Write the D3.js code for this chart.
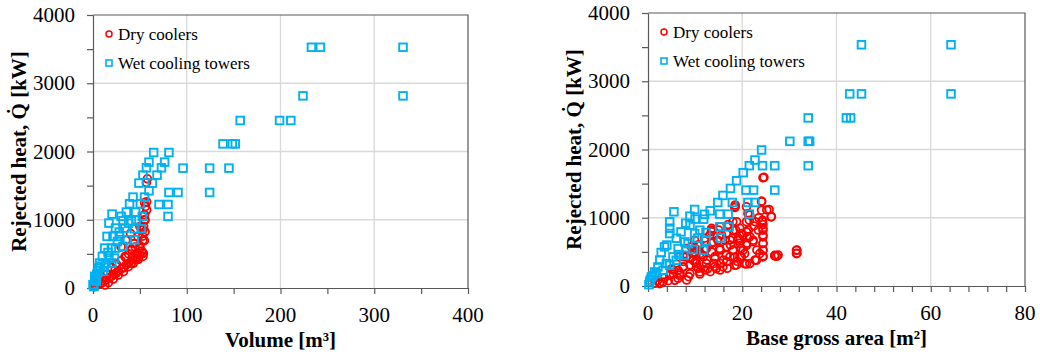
<!DOCTYPE html>
<html>
<head>
<meta charset="utf-8">
<script src="https://cdn.jsdelivr.net/npm/d3@7"></script>
<style>
  body { margin: 0; background: #fff; }
  svg { display: block; }
  svg text { font-family: "Liberation Serif", "Times New Roman", Tinos, "DejaVu Serif", serif; fill: #000; }
</style>
</head>
<body>
<svg id="chart" width="1040" height="357" font-family="Liberation Serif, Times New Roman, DejaVu Serif, serif"></svg>
<script>
// ---- data ----
const seriesNames = ['Dry coolers', 'Wet cooling towers'];
const heatTicks = [0, 1000, 2000, 3000, 4000];
const volumeTicks = [0, 100, 200, 300, 400];
const areaTicks = [0, 20, 40, 60, 80];

// [volume m3, rejected heat kW]
const dryVolume = [
  [1, 20], [2, 40], [3, 30], [5, 60], [8, 70], [9, 73], [12, 100], [14, 122], [17, 150],
  [19.6, 171], [22, 200], [25, 220], [27, 250], [30, 278], [33, 300], [35.6, 341], [38, 360],
  [41, 366], [42.7, 439], [45, 420], [47, 429], [48, 463], [50, 480], [53.3, 463], [53.3, 512],
  [52, 540], [41, 570], [45, 600], [50, 620], [53.3, 698], [53, 760], [53.3, 854], [54, 900],
  [55, 1000], [55, 1073], [56, 1195], [55, 1250], [57, 1546], [58, 1600], [30, 400], [35, 450],
  [25, 350], [20, 300], [15, 200], [10, 150], [38, 500], [44, 650], [48, 750], [50, 900],
  [40, 800], [35, 700], [30, 600], [4, 90], [6, 110], [7, 160],
  [54.8, 693], [53.7, 508], [48.4, 420], [43, 361], [37.7, 313], [32.4, 239], [27, 190],
  [21.7, 132], [16.4, 78], [12.8, 44], [41.3, 557], [46.6, 508], [55.5, 825], [55.5, 996],
  [57.2, 1143], [57.2, 1264], [34.1, 459], [50.1, 581], [23.5, 264]
];
const wetVolume = [
  [233, 3527], [242.5, 3527], [330.7, 3527], [224, 2815], [330.7, 2815],
  [157, 2454], [199, 2454], [211, 2454], [138.7, 2112], [148.6, 2112], [151.8, 2112],
  [64.7, 1985], [81, 1985], [96, 1756], [124.4, 1756], [145, 1756],
  [81, 1400], [90.7, 1400], [124.4, 1400], [70.4, 1224], [80, 1224], [80, 1049],
  [59.7, 1844], [76.4, 1844], [57, 1761], [73, 1761], [53.3, 1654], [68.3, 1654],
  [49, 1537], [63.3, 1537], [59.7, 1424], [42.7, 1332], [55, 1332], [39, 1234], [50.5, 1234],
  [35.6, 1112], [45.5, 1112], [20.3, 1083], [52.6, 1049], [32, 985], [41, 985], [17, 951],
  [24, 878], [34, 878], [44.4, 868], [51.5, 868], [15, 756], [21.3, 756], [28.4, 756],
  [36.6, 707], [44, 707], [12.4, 585], [19.6, 585], [24, 585], [32, 610], [10, 463],
  [17, 439], [23, 439], [7, 366], [14, 366], [20, 366], [5.3, 293], [10.7, 244],
  [1.8, 171], [3.5, 98], [0, 49], [1, 20], [2, 120], [4, 200], [6, 260], [8, 320],
  [12, 300], [16, 520], [28, 820], [38, 950], [46, 1000], [30, 1050], [26, 680]
];

// [base gross area m2, rejected heat kW]
const dryArea = [
  [24.4, 1586], [24.1, 1244], [25.7, 1121], [26.1, 1013], [24.1, 1111], [24.3, 964],
  [24.4, 818], [24.4, 720], [24.4, 622], [24.4, 524], [24.4, 426], [26.9, 450], [27.3, 436],
  [31.5, 524], [31.5, 475], [21.2, 1062], [21.5, 964], [20.9, 793], [19.8, 769], [18, 940],
  [18.6, 818], [19.1, 671], [19.8, 548], [18, 524], [16.6, 450], [16.3, 671], [15.2, 548],
  [14.2, 401], [13.8, 646], [12.4, 328], [13.1, 744], [13.5, 818], [11, 475], [10.3, 279],
  [9.6, 377], [9.2, 573], [9.9, 671], [8.1, 426], [7.4, 279], [6.4, 230], [4.6, 157],
  [5.7, 83], [3.2, 59], [2.5, 34], [6.7, 157], [8.9, 181], [11, 206], [12.7, 255],
  [14.5, 255], [15.9, 279], [18.4, 304], [20.5, 328], [23, 377], [21.6, 328], [18, 696],
  [16.6, 769], [14.8, 671], [13.5, 500], [11.7, 426], [12.4, 548], [8.1, 548], [6.7, 426],
  [9.9, 500], [22.3, 671], [20.9, 597], [19.8, 426], [18.4, 426], [20.5, 475], [23.7, 475],
  [20.9, 1160], [18.5, 1160], [17, 900], [15, 820], [12, 700], [10.5, 600], [7.5, 360],
  [5, 250], [3.5, 120], [1.5, 40], [2, 80], [22.5, 880], [23.5, 1000], [24.4, 900],
  [21, 720], [17.5, 600], [14, 330], [10, 350], [16, 380], [19, 360],
  [24.6, 1593], [24.1, 1235], [25.2, 1114], [26.2, 1016], [24.3, 942], [24.4, 845],
  [24.4, 747], [24.4, 625], [24.4, 527], [24.4, 440], [26.9, 440], [27.6, 454], [31.6, 527],
  [31.6, 479], [22.7, 381], [20.9, 322], [18.8, 308], [16.8, 259], [15.3, 234], [13.2, 210],
  [11, 176], [8.6, 137], [6.4, 112], [4.3, 78], [2.5, 49], [8.2, 88], [18.5, 1187],
  [18.8, 942], [18.1, 820], [19.5, 845], [20.9, 942], [21.3, 820], [21.6, 723], [20.9, 625],
  [20.2, 527], [19.5, 430], [23.1, 527], [22.3, 650], [23.4, 820], [22.7, 942], [21.6, 1040],
  [15.3, 869], [15.6, 747], [17.4, 674], [16.7, 576], [18.1, 527], [17.4, 430], [15.3, 527],
  [14.2, 430], [13.5, 625], [13.5, 796], [12.1, 527], [12.5, 381], [11.4, 454], [10.3, 332],
  [9.6, 479], [8.9, 308], [10.7, 259], [7.5, 283], [6.8, 186], [5.4, 176], [5.4, 234],
  [8.9, 406], [15.3, 332], [16.7, 356], [14.2, 283], [12.1, 234], [19.2, 699], [19.5, 625],
  [20.2, 747], [18.4, 1150], [13.5, 845], [10, 552], [7.5, 430], [11, 601]
];
const wetArea = [
  [45.3, 3535], [64.3, 3535], [42.8, 2815], [45.3, 2815], [64.3, 2815],
  [34, 2463], [42.1, 2463], [43, 2463], [30.1, 2120], [34, 2120], [34.3, 2120], [34, 1763],
  [24.1, 1993], [22.7, 1846], [21.5, 1763], [20.2, 1660], [18.8, 1542], [17.5, 1430],
  [15.9, 1327], [14.8, 1224], [13.2, 1102], [11.8, 979], [9.9, 1121], [8.9, 1023],
  [5.5, 1087], [4.6, 940], [4.6, 847], [4.6, 769], [2.8, 490], [24.3, 1763], [26.9, 1763],
  [20.8, 1405], [22.4, 1405], [26.9, 1405], [21.2, 1224], [22.7, 1224], [17.9, 1224],
  [21.5, 1053], [15.2, 1053], [17, 1053], [15.2, 866], [17.2, 866], [15.4, 705],
  [7, 793], [8.9, 891], [9.9, 769], [11, 818], [12.3, 783], [12.3, 661], [11.8, 524],
  [9.6, 534], [7.8, 646], [6.4, 548], [5.3, 426], [3.5, 573], [3.9, 328], [2.1, 279],
  [1.4, 206], [0.7, 132], [0.35, 59], [1.8, 181], [3.2, 230], [4.6, 304], [6, 377],
  [7.6, 450], [0.2, 20], [0.5, 90], [1, 150], [2.5, 380], [4, 600], [6, 700], [8, 920],
  [10, 980], [12, 1050], [6.5, 460], [8.5, 620], [10.5, 700]
];

// ---- drawing ----
const svg = d3.select('#chart');
const RED = '#ff0000';
const BLUE = '#00b0f0';
const AXIS = '#595959';
const GRID = '#d9d9d9';
const FONT = '"Liberation Serif", "Times New Roman", "DejaVu Serif", serif';

function drawPanel(cfg) {
  const g = svg.append('g').attr('font-family', FONT);
  const x = d3.scaleLinear().domain([cfg.xTicks[0], cfg.xTicks[cfg.xTicks.length - 1]])
    .range([cfg.left, cfg.right]);
  const y = d3.scaleLinear().domain([0, 4000]).range([cfg.bottom, cfg.top]);

  // gridlines
  g.selectAll('.vgrid').data(cfg.xTicks.slice(1, -1)).join('line')
    .attr('x1', d => x(d)).attr('x2', d => x(d))
    .attr('y1', cfg.top).attr('y2', cfg.bottom)
    .attr('stroke', GRID).attr('stroke-width', 1.3);
  g.selectAll('.hgrid').data(heatTicks.slice(1, -1)).join('line')
    .attr('x1', cfg.left).attr('x2', cfg.right)
    .attr('y1', d => y(d)).attr('y2', d => y(d))
    .attr('stroke', GRID).attr('stroke-width', 1.3);

  // frame top/right
  g.append('path')
    .attr('d', `M${cfg.left},${cfg.top}H${cfg.right}V${cfg.bottom}`)
    .attr('fill', 'none').attr('stroke', AXIS).attr('stroke-width', 1.2);

  // axes with major + minor ticks (outside)
  const xAll = d3.range(cfg.xTicks[0], cfg.xTicks[cfg.xTicks.length - 1] + 1e-9, cfg.xMinor);
  const yAll = d3.range(0, 4000 + 1e-9, 500);
  const xAxis = g.append('g').attr('transform', `translate(0,${cfg.bottom})`)
    .call(d3.axisBottom(x).tickValues(xAll).tickSize(6).tickSizeOuter(0).tickFormat(''));
  const yAxis = g.append('g').attr('transform', `translate(${cfg.left},0)`)
    .call(d3.axisLeft(y).tickValues(yAll).tickSize(6).tickSizeOuter(0).tickFormat(''));
  [xAxis, yAxis].forEach(a => {
    a.selectAll('path, line').attr('stroke', AXIS).attr('stroke-width', 1.2);
  });

  // tick labels
  g.selectAll('.xlab').data(cfg.xTicks).join('text')
    .attr('x', d => x(d)).attr('y', cfg.bottom + 34)
    .attr('text-anchor', 'middle').attr('font-size', 21)
    .text(d => d);
  g.selectAll('.ylab').data(heatTicks).join('text')
    .attr('x', cfg.left - 18).attr('y', d => y(d)).attr('dy', '0.34em')
    .attr('text-anchor', 'end').attr('font-size', 21)
    .text(d => d);

  // axis titles
  g.append('text')
    .attr('x', (cfg.left + cfg.right) / 2).attr('y', cfg.bottom + 59)
    .attr('text-anchor', 'middle').attr('font-size', 21).attr('font-weight', 'bold')
    .text(cfg.xTitle);
  g.append('text')
    .attr('transform', `translate(${cfg.left - 67},${(cfg.top + cfg.bottom) / 2}) rotate(-90)`)
    .attr('text-anchor', 'middle').attr('font-size', 21).attr('font-weight', 'bold')
    .text('Rejected heat, Q\u0307 [kW]');

  // markers
  const clip = 'clip' + cfg.id;
  g.append('clipPath').attr('id', clip).append('rect')
    .attr('x', cfg.left - 5).attr('y', cfg.top).attr('width', cfg.right - cfg.left + 10)
    .attr('height', cfg.bottom - cfg.top + 5);
  const pts = g.append('g').attr('clip-path', `url(#${clip})`);
  pts.selectAll('circle').data(cfg.dry).join('circle')
    .attr('cx', d => x(d[0])).attr('cy', d => y(d[1])).attr('r', 3.9)
    .attr('fill', 'none').attr('stroke', RED).attr('stroke-width', 1.8);
  pts.selectAll('rect').data(cfg.wet).join('rect')
    .attr('x', d => x(d[0]) - 3.8).attr('y', d => y(d[1]) - 3.8)
    .attr('width', 7.6).attr('height', 7.6)
    .attr('fill', 'none').attr('stroke', BLUE).attr('stroke-width', 1.9);

  // legend
  const lx = cfg.left + 16, ly = cfg.top + 19;
  g.append('circle').attr('cx', lx).attr('cy', ly).attr('r', 3)
    .attr('fill', 'none').attr('stroke', RED).attr('stroke-width', 1.5);
  g.append('text').attr('x', lx + 9).attr('y', ly + 6).attr('font-size', 17).text(seriesNames[0]);
  g.append('rect').attr('x', lx - 3).attr('y', ly + 26).attr('width', 6).attr('height', 6)
    .attr('fill', 'none').attr('stroke', BLUE).attr('stroke-width', 1.6);
  g.append('text').attr('x', lx + 9).attr('y', ly + 35).attr('font-size', 17).text(seriesNames[1]);
}

drawPanel({
  id: 'vol', left: 93, right: 468, top: 15, bottom: 288,
  xTicks: volumeTicks, xMinor: 50, xTitle: 'Volume [m\u00b3]',
  dry: dryVolume, wet: wetVolume
});
drawPanel({
  id: 'area', left: 648, right: 1025, top: 13, bottom: 286,
  xTicks: areaTicks, xMinor: 4, xTitle: 'Base gross area [m\u00b2]',
  dry: dryArea, wet: wetArea
});
</script>
</body>
</html>
